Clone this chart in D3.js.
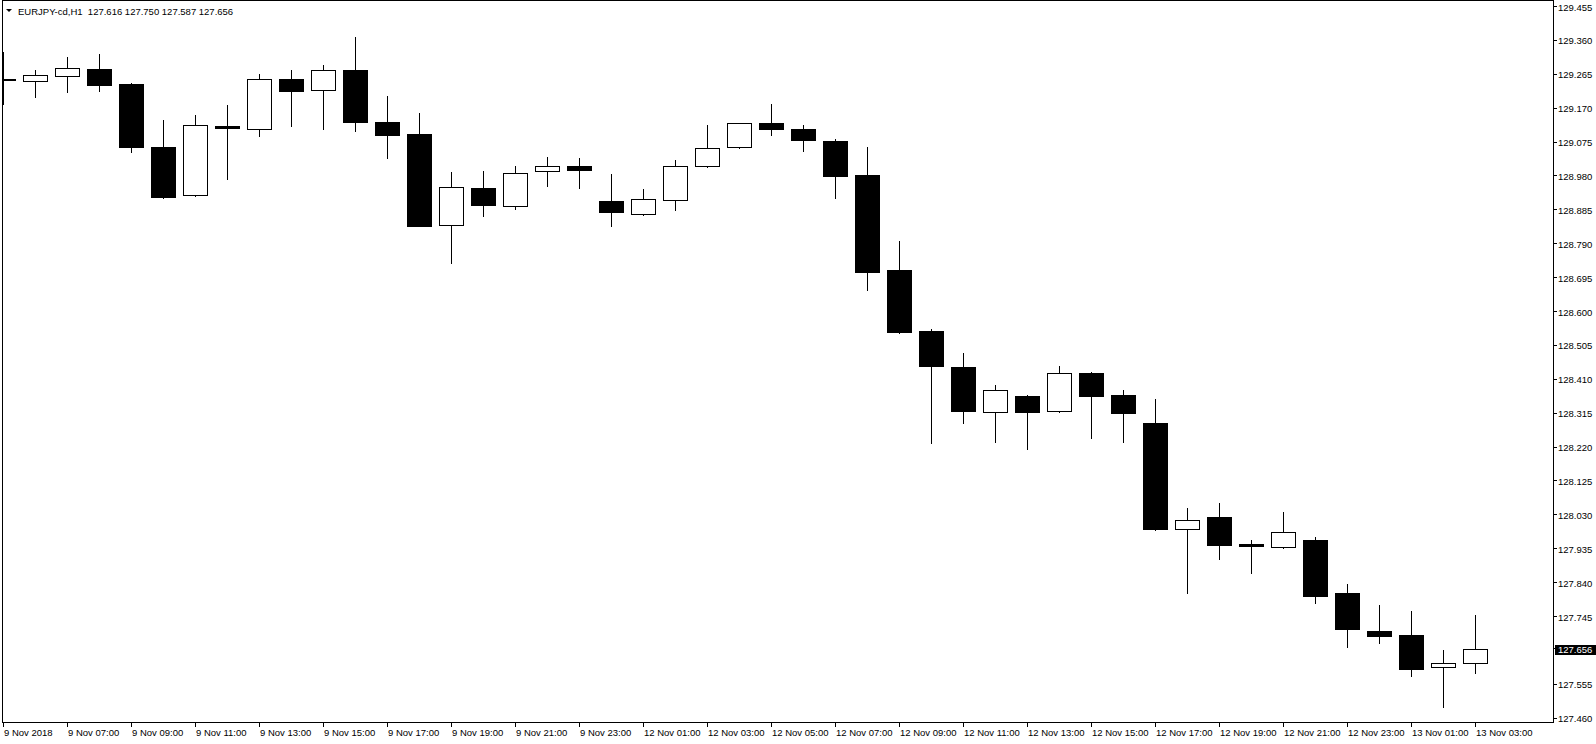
<!DOCTYPE html>
<html>
<head>
  <title>EURJPY-cd,H1</title>
  <style>
    html, body { margin:0; padding:0; background:#fff; }
    svg { display:block; }
    text { font-family: "Liberation Sans", Arial, sans-serif; font-size: 9.5px; fill: #000; }
  </style>
  <script src="https://d3js.org/d3.v7.min.js"></script>
</head>
<body>
<svg id="chart" width="1596" height="744"></svg>
<script>
  var width = 1596,
      height = 744;

  // OHLC per H1 bar, 9 Nov 05:00 -> 13 Nov 03:00
  var opens  = [129.254,129.248,129.262,129.281,129.239,129.062,128.927,129.121,129.114,129.252,
                129.223,129.278,129.133,129.099,128.844,128.947,128.896,128.995,129.009,128.910,
                128.876,128.913,129.009,129.063,129.131,129.112,129.078,128.984,128.717,128.547,
                128.445,128.320,128.365,128.323,128.430,128.368,128.289,127.993,128.025,127.951,
                127.940,127.962,127.812,127.706,127.694,127.604,127.616];
  var highs  = [129.328,129.278,129.314,129.323,129.242,129.138,129.151,129.179,129.267,129.278,
                129.292,129.371,129.205,129.158,128.992,128.995,129.009,129.035,129.032,128.987,
                128.944,129.026,129.123,129.131,129.183,129.123,129.086,129.063,128.799,128.553,
                128.484,128.396,128.368,128.448,128.433,128.382,128.357,128.050,128.064,127.962,
                128.039,127.970,127.837,127.778,127.762,127.652,127.750];
  var lows   = [129.182,129.204,129.218,129.220,129.049,128.920,128.925,128.974,129.093,129.122,
                129.114,129.108,129.033,128.840,128.738,128.868,128.890,128.953,128.947,128.842,
                128.873,128.887,129.006,129.061,129.095,129.052,128.921,128.663,128.541,128.232,
                128.289,128.235,128.215,128.321,128.246,128.235,127.988,127.812,127.908,127.869,
                127.938,127.783,127.661,127.673,127.580,127.493,127.587];
  var closes = [129.250,129.264,129.283,129.237,129.063,128.923,129.123,129.115,129.252,129.220,
                129.278,129.133,129.097,128.841,128.950,128.899,128.990,129.009,128.998,128.879,
                128.916,129.009,129.061,129.129,129.112,129.083,128.981,128.711,128.544,128.448,
                128.323,128.382,128.320,128.428,128.365,128.317,127.993,128.016,127.948,127.945,
                127.982,127.803,127.712,127.692,127.600,127.615,127.656];

  var timeLabels = ["9 Nov 2018","9 Nov 07:00","9 Nov 09:00","9 Nov 11:00","9 Nov 13:00",
                    "9 Nov 15:00","9 Nov 17:00","9 Nov 19:00","9 Nov 21:00","9 Nov 23:00",
                    "12 Nov 01:00","12 Nov 03:00","12 Nov 05:00","12 Nov 07:00","12 Nov 09:00",
                    "12 Nov 11:00","12 Nov 13:00","12 Nov 15:00","12 Nov 17:00","12 Nov 19:00",
                    "12 Nov 21:00","12 Nov 23:00","13 Nov 01:00","13 Nov 03:00"];
  var timeLabelBars = [0,2,4,6,8,10,12,14,16,18,20,22,24,26,28,30,32,34,36,38,40,42,44,46];

  var priceTicks = [129.455,129.360,129.265,129.170,129.075,128.980,128.885,128.790,128.695,
                    128.600,128.505,128.410,128.315,128.220,128.125,128.030,127.935,127.840,
                    127.745,127.555,127.460];
  var lastPrice = 127.656;
  var title = "EURJPY-cd,H1  127.616 127.750 127.587 127.656";

  var plotLeft = 2, plotRight = 1553, plotTop = 0, plotBottom = 722;

  var svg = d3.select("#chart");
  svg.append("rect").attr("width", width).attr("height", height).attr("fill", "#fff");

  var x = d3.scaleLinear().domain([0, 46]).range([3.5, 1475.5]);
  var y = d3.scaleLinear().domain([127.460, 129.455]).range([718.7, 7]);

  svg.append("clipPath").attr("id", "plotclip")
    .append("rect")
      .attr("x", plotLeft).attr("y", plotTop)
      .attr("width", plotRight - plotLeft).attr("height", plotBottom - plotTop);

  var bars = d3.range(opens.length).map(function(i) {
    return {i: i, o: opens[i], h: highs[i], l: lows[i], c: closes[i]};
  });

  var g = svg.append("g").attr("clip-path", "url(#plotclip)");

  // wicks
  g.selectAll(".wick").data(bars).enter().append("line")
    .attr("class", "wick")
    .attr("x1", function(d) { return Math.round(x(d.i) - 0.5) + 0.5; })
    .attr("x2", function(d) { return Math.round(x(d.i) - 0.5) + 0.5; })
    .attr("y1", function(d) { return Math.round(y(d.h)); })
    .attr("y2", function(d) { return Math.round(y(d.l)) + 1; })
    .attr("stroke", "#000")
    .attr("stroke-width", 1)
    .attr("shape-rendering", "crispEdges");

  // bodies
  g.selectAll(".body").data(bars).enter().append("rect")
    .attr("class", "body")
    .attr("x", function(d) {
      var cx = Math.round(x(d.i) - 0.5) + 0.5;
      return d.c >= d.o ? cx - 12 : cx - 12.5;
    })
    .attr("width", function(d) { return d.c >= d.o ? 24 : 25; })
    .attr("y", function(d) {
      var top = Math.round(y(Math.max(d.o, d.c)));
      return d.c >= d.o ? top + 0.5 : top;
    })
    .attr("height", function(d) {
      var h = Math.round(y(Math.min(d.o, d.c))) - Math.round(y(Math.max(d.o, d.c)));
      return d.c >= d.o ? Math.max(h, 1) : Math.max(h + 1, 2);
    })
    .attr("fill", function(d) { return d.c >= d.o ? "#fff" : "#000"; })
    .attr("stroke", function(d) { return d.c >= d.o ? "#000" : "none"; })
    .attr("stroke-width", 1)
    .attr("shape-rendering", "crispEdges");

  // frame
  svg.append("path")
    .attr("d", "M" + (plotLeft + 0.5) + "," + (plotBottom + 0.5) +
               "V0.5H" + (plotRight + 0.5) + "V" + (plotBottom + 0.5) + "H" + (plotLeft + 0.5))
    .attr("fill", "none")
    .attr("stroke", "#000")
    .attr("shape-rendering", "crispEdges");

  // price axis
  var yAxis = svg.append("g");
  priceTicks.forEach(function(p) {
    var ty = Math.round(y(p)) - 1;
    yAxis.append("line")
      .attr("x1", plotRight).attr("x2", plotRight + 4)
      .attr("y1", ty + 0.5).attr("y2", ty + 0.5)
      .attr("stroke", "#000").attr("shape-rendering", "crispEdges");
    yAxis.append("text")
      .attr("x", plotRight + 5)
      .attr("y", y(p) + 3.5)
      .text(p.toFixed(3));
  });

  // last price marker
  var ly = y(lastPrice);
  yAxis.append("line")
    .attr("x1", plotRight).attr("x2", plotRight + 4)
    .attr("y1", Math.round(ly) - 0.5).attr("y2", Math.round(ly) - 0.5)
    .attr("stroke", "#000").attr("shape-rendering", "crispEdges");
  yAxis.append("rect")
    .attr("x", plotRight + 2).attr("y", Math.round(ly) - 4)
    .attr("width", width - plotRight - 2).attr("height", 10)
    .attr("fill", "#000");
  yAxis.append("text")
    .attr("x", plotRight + 5)
    .attr("y", ly + 4)
    .style("fill", "#fff")
    .text(lastPrice.toFixed(3));

  // time axis
  var xAxis = svg.append("g");
  timeLabelBars.forEach(function(b, k) {
    var tx = Math.round(x(b) - 0.5) + 0.5;
    xAxis.append("line")
      .attr("x1", tx).attr("x2", tx)
      .attr("y1", plotBottom).attr("y2", plotBottom + 5)
      .attr("stroke", "#000").attr("shape-rendering", "crispEdges");
    xAxis.append("text")
      .attr("x", tx + 0.5)
      .attr("y", 735.5)
      .text(timeLabels[k]);
  });

  // header
  svg.append("path")
    .attr("d", "M6,9 L12,9 L9,12 Z")
    .attr("fill", "#000");
  svg.append("text")
    .attr("x", 18)
    .attr("y", 14.5)
    .attr("xml:space", "preserve")
    .style("white-space", "pre")
    .text(title);
</script>
</body>
</html>
